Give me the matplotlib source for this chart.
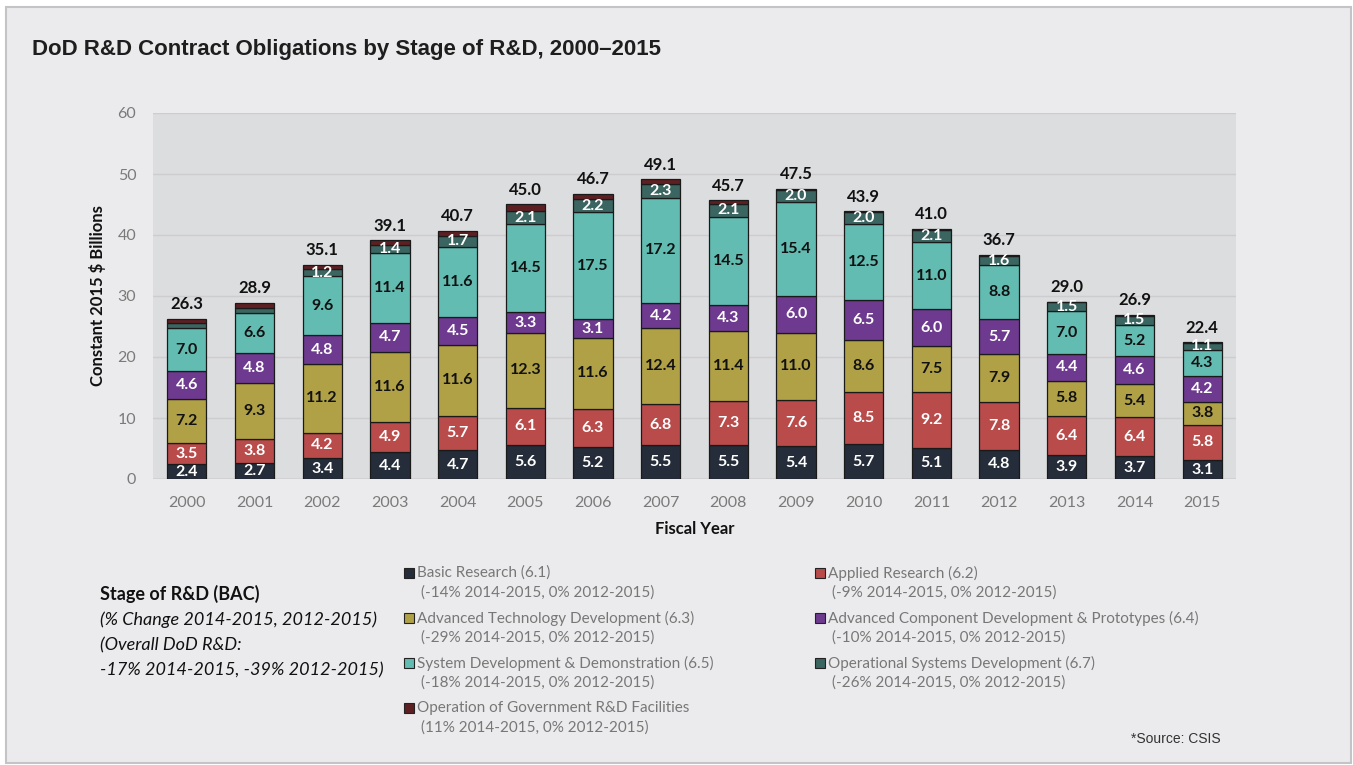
import matplotlib
matplotlib.use("Agg")
import matplotlib.pyplot as plt
from matplotlib.patches import Rectangle
import numpy as np

years = [str(y) for y in range(2000, 2016)]
basic = [2.4, 2.7, 3.4, 4.4, 4.7, 5.6, 5.2, 5.5, 5.5, 5.4, 5.7, 5.1, 4.8, 3.9, 3.7, 3.1]
applied = [3.5, 3.8, 4.2, 4.9, 5.7, 6.1, 6.3, 6.8, 7.3, 7.6, 8.5, 9.2, 7.8, 6.4, 6.4, 5.8]
adv_tech = [7.2, 9.3, 11.2, 11.6, 11.6, 12.3, 11.6, 12.4, 11.4, 11.0, 8.6, 7.5, 7.9, 5.8, 5.4, 3.8]
adv_comp = [4.6, 4.8, 4.8, 4.7, 4.5, 3.3, 3.1, 4.2, 4.3, 6.0, 6.5, 6.0, 5.7, 4.4, 4.6, 4.2]
sys_dev = [7.0, 6.6, 9.6, 11.4, 11.6, 14.5, 17.5, 17.2, 14.5, 15.4, 12.5, 11.0, 8.8, 7.0, 5.2, 4.3]
op_sys = [0.8, 0.9, 1.2, 1.4, 1.7, 2.1, 2.2, 2.3, 2.1, 2.0, 2.0, 2.1, 1.6, 1.5, 1.5, 1.1]
facilities = [0.8, 0.8, 0.7, 0.7, 0.9, 1.1, 0.8, 0.7, 0.6, 0.2, 0.1, 0.1, 0.1, 0.05, 0.1, 0.1]
totals = [26.3, 28.9, 35.1, 39.1, 40.7, 45.0, 46.7, 49.1, 45.7, 47.5, 43.9, 41.0, 36.7, 29.0, 26.9, 22.4]

series_names = [
    "Basic Research (6.1)",
    "Applied Research (6.2)",
    "Advanced Technology Development (6.3)",
    "Advanced Component Development & Prototypes (6.4)",
    "System Development & Demonstration (6.5)",
    "Operational Systems Development (6.7)",
    "Operation of Government R&D Facilities",
]
series_notes = [
    "(-14% 2014-2015, 0% 2012-2015)",
    "(-9% 2014-2015, 0% 2012-2015)",
    "(-29% 2014-2015, 0% 2012-2015)",
    "(-10% 2014-2015, 0% 2012-2015)",
    "(-18% 2014-2015, 0% 2012-2015)",
    "(-26% 2014-2015, 0% 2012-2015)",
    "(11% 2014-2015, 0% 2012-2015)",
]
series_vals = [basic, applied, adv_tech, adv_comp, sys_dev, op_sys, facilities]
colors = ["#252D3A", "#BA4B4B", "#B0A046", "#6E3A8F", "#62BCB1", "#3B6560", "#5E1F22"]
label_colors = ["white", "white", "#111111", "white", "#111111", "white", None]

FONT = "Lato"
plt.rcParams["font.family"] = [FONT, "DejaVu Sans"]

fig = plt.figure(figsize=(13.53, 7.65), dpi=100)
fig.patch.set_facecolor("white")
# panel background with border
fig.patches.append(Rectangle((6 / 1353, 2 / 765), 1345 / 1353, 756 / 765, transform=fig.transFigure,
                             facecolor="#EBEBED", edgecolor="#C4C4C6", linewidth=1.5, zorder=-10))

ax = fig.add_axes([153 / 1353, 1 - 479 / 765, (1236 - 153) / 1353, (479 - 113) / 765])
ax.set_zorder(2)
ax.set_facecolor("#DCDDDF")
x = np.arange(len(years))
bottom = np.zeros(len(years))
for vals, c, lc in zip(series_vals, colors, label_colors):
    v = np.array(vals)
    ax.bar(x, v, bottom=bottom, width=0.58, color=c, edgecolor="#1A1A1A", linewidth=0.9, zorder=3)
    if lc is not None:
        for xi, (b, h) in enumerate(zip(bottom, v)):
            if h >= 1.0:
                ax.text(xi, b + h / 2, f"{h:.1f}", ha="center", va="center", color=lc,
                        fontsize=11.5, fontweight="bold", zorder=4)
    bottom += v

for xi, t in enumerate(totals):
    ax.text(xi, bottom[xi] + 1.1, f"{t:.1f}", ha="center", va="bottom", color="#111111",
            fontsize=12, fontweight="bold", zorder=4)

ax.set_xlim(-0.5, len(years) - 0.5)
ax.set_ylim(0, 60)
ax.set_yticks(range(0, 61, 10))
ax.set_xticks(x)
ax.set_xticklabels(years)
ax.tick_params(axis="both", length=0, labelsize=11.5, labelcolor="#7A7A7A")
ax.tick_params(axis="x", pad=12)
ax.tick_params(axis="y", pad=12)
ax.grid(axis="y", color="#CDCDD0", linewidth=1.0, zorder=0)
ax.set_axisbelow(True)
for s in ax.spines.values():
    s.set_visible(False)
ax.axhline(0, color="#D0D0D2", linewidth=1.2, zorder=2)
ax.set_xlabel("Fiscal Year", fontsize=12, fontweight="bold", color="#111111", labelpad=8)
ax.set_ylabel("Constant 2015 $ Billions", fontsize=12, fontweight="bold", color="#111111", labelpad=8)

# title
fig.text(32 / 1353, 1 - 50 / 765, "DoD R&D Contract Obligations by Stage of R&D, 2000–2015",
         family=["Liberation Sans", "DejaVu Sans"], fontsize=16,
         fontweight="bold", color="#1E1E1E", va="center", ha="left")

# left legend block
fig.text(100 / 1353, 1 - 594 / 765, "Stage of R&D (BAC)", fontsize=13, fontweight="bold",
         color="#111111", va="center")
for i, line in enumerate(["(% Change 2014-2015, 2012-2015)", "(Overall DoD R&D:",
                          "-17% 2014-2015, -39% 2012-2015)"]):
    fig.text(100 / 1353, 1 - (620 + 25 * i) / 765, line, fontsize=13, style="italic",
             color="#111111", va="center")

# legend entries
col_x = [404, 815]
row_y = [573, 618, 663, 708]
for i, (name, note, c) in enumerate(zip(series_names, series_notes, colors)):
    cx = col_x[i % 2]
    ry = row_y[i // 2]
    fig.patches.append(Rectangle((cx / 1353, 1 - (ry + 5) / 765), 10 / 1353, 10 / 765,
                                 transform=fig.transFigure, facecolor=c, edgecolor="#222222",
                                 linewidth=0.8, zorder=5))
    fig.text((cx + 13) / 1353, 1 - ry / 765, name, fontsize=11, color="#777777", va="center")
    fig.text((cx + 17) / 1353, 1 - (ry + 20) / 765, note, fontsize=11, color="#777777", va="center")

fig.text(1221 / 1353, 1 - 739 / 765, "*Source: CSIS",
         family=["Liberation Sans", "DejaVu Sans"], fontsize=10, color="#333333",
         ha="right", va="center")

fig.savefig("out.png", dpi=100, facecolor=fig.get_facecolor())
